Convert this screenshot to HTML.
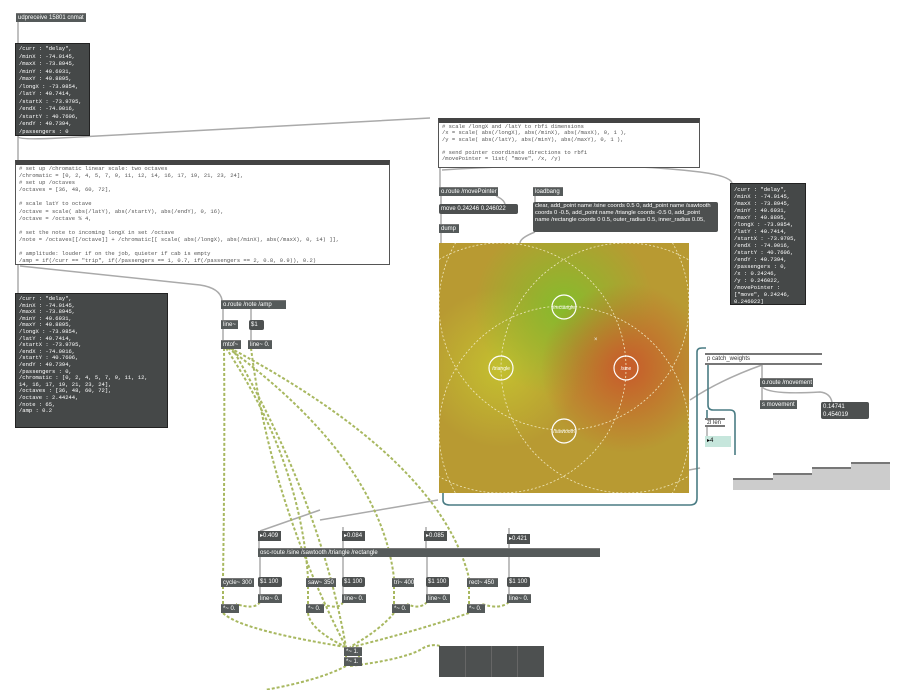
<!DOCTYPE html>
<html><head><meta charset="utf-8"><style>
body{margin:0;width:907px;height:690px;background:#fff;position:relative;overflow:hidden;font-family:"Liberation Sans",sans-serif}
.o{position:absolute;background:#555a5a;color:#fff;font-size:6px;line-height:8px;padding:0 2px;box-sizing:border-box;white-space:nowrap;border-top:1px solid #777}
.m{position:absolute;background:#4d5050;color:#fff;font-size:6px;line-height:8px;padding:1px 2px;box-sizing:border-box;border-radius:2px;white-space:nowrap}
.d{position:absolute;background:#454848;color:#fff;font-family:"Liberation Mono",monospace;font-size:5.5px;line-height:7.6px;padding:1px 3px;box-sizing:border-box;border:1px solid #222;white-space:pre;overflow:hidden}
.c{position:absolute;background:#fff;border:1px solid #555;border-top:5px solid #444;font-family:"Liberation Mono",monospace;font-size:5.5px;line-height:7.2px;color:#555;padding:1px 3px;box-sizing:border-box;white-space:pre;overflow:hidden}
.n{position:absolute;background:#4d5050;color:#fff;font-size:6px;line-height:10px;padding:0 2px;box-sizing:border-box;white-space:nowrap}
</style></head><body>
<svg width="907" height="690" style="position:absolute;left:0;top:0">
<g fill="none" stroke="#aaa" stroke-width="1.5">
<path d="M18 22V43"/><path d="M18 136V160"/>
<path d="M18 137 Q20 140 60 138 L430 118"/>
<path d="M18 265V293"/><path d="M20 266 L200 285 Q220 288 222 300"/>
<path d="M440 168V187"/><path d="M442 170 Q600 160 700 172 Q730 176 732 183"/>
<path d="M441 196V205"/><path d="M496 196 Q505 200 505 205"/>
<path d="M441 214V224"/><path d="M535 196V202"/>
<path d="M441 232V243"/><path d="M535 232 Q520 238 520 243"/>
<path d="M223 309V320"/><path d="M251 309V320"/><path d="M251 330V340"/><path d="M223 328V340"/>
<path d="M259 541V548"/><path d="M343 541V548"/><path d="M426 541V548"/><path d="M509 544V548"/>
<path d="M260 531 L320 510"/><path d="M343 531V527"/><path d="M426 531V527"/><path d="M509 534V528"/>
<path d="M260 557V578"/><path d="M343 557V578"/><path d="M427 557V578"/><path d="M509 557V578"/>
<path d="M260 586V594"/><path d="M343 586V594"/><path d="M427 586V594"/><path d="M509 586V594"/>
<path d="M762 365V378"/><path d="M762 387V400"/><path d="M762 387 Q770 395 820 392 Q830 393 832 402"/>
<path d="M762 365 Q720 380 690 400"/><path d="M689 403 L660 420"/>
<path d="M438 500 L320 520"/><path d="M689 470 L700 468"/>
<path d="M707 426V436"/>
</g>
<g fill="none" stroke="#4a7c84" stroke-width="1.6">
<path d="M443 493 V500 Q443 505 450 505 H690 Q697 505 697 498 V352 Q697 348 702 348 H706"/>
<path d="M708 365 V405 Q708 410 713 410 H730 Q735 410 735 415 V455"/>
<path d="M707 410 V418"/>
</g>
<g fill="none" stroke="#a8b860" stroke-width="2" stroke-dasharray="3 2">
<path d="M224 348 Q225 450 223 578"/><path d="M226 348 Q300 460 308 578"/><path d="M228 348 Q380 460 394 578"/><path d="M230 348 Q440 460 469 578"/>
<path d="M251 348 Q270 500 346 647"/><path d="M232 348 Q320 500 346 647"/>
<path d="M223 586V604"/><path d="M308 586V604"/><path d="M394 586V604"/><path d="M469 586V604"/>
<path d="M260 602 Q255 610 236 604"/><path d="M343 602 Q340 610 321 604"/><path d="M427 602 Q420 610 407 604"/><path d="M509 602 Q500 610 482 604"/>
<path d="M223 613 Q240 630 346 647"/><path d="M308 613 Q310 630 346 647"/><path d="M394 613 Q380 630 350 647"/><path d="M469 613 Q420 630 352 647"/>
<path d="M346 656V657"/><path d="M359 656V657"/>
<path d="M346 666 Q320 680 265 690"/><path d="M350 666 Q400 660 420 650 Q430 643 440 646"/>
</g>
</svg>

<div class="o" style="left:16px;top:13px;width:70px;height:9px">udpreceive 15801 cnmat</div>
<div class="d" style="left:15px;top:43px;width:75px;height:93px;line-height:7.5px;padding-top:1px">/curr : "delay",
/minX : -74.0145,
/maxX : -73.8945,
/minY : 40.6931,
/maxY : 40.8895,
/longX : -73.9854,
/latY : 40.7414,
/startX : -73.9705,
/endX : -74.0016,
/startY : 40.7606,
/endY : 40.7394,
/passengers : 0</div>

<div class="c" style="left:15px;top:160px;width:375px;height:105px;padding-top:0;line-height:7.1px"># set up /chromatic linear scale: two octaves
/chromatic = [0, 2, 4, 5, 7, 9, 11, 12, 14, 16, 17, 19, 21, 23, 24],
# set up /octaves
/octaves = [36, 48, 60, 72],

# scale latY to octave
/octave = scale( abs(/latY), abs(/startY), abs(/endY), 0, 16),
/octave = /octave % 4,

# set the note to incoming longX in set /octave
/note = /octaves[[/octave]] + /chromatic[[ scale( abs(/longX), abs(/minX), abs(/maxX), 0, 14) ]],

# amplitude: louder if on the job, quieter if cab is empty
/amp = if(/curr == "trip", if(/passengers == 1, 0.7, if(/passengers == 2, 0.8, 0.9)), 0.2)</div>

<div class="c" style="left:438px;top:118px;width:262px;height:50px;line-height:6.4px"># scale /longX and /latY to rbfi dimensions
/x = scale( abs(/longX), abs(/minX), abs(/maxX), 0, 1 ),
/y = scale( abs(/latY), abs(/minY), abs(/maxY), 0, 1 ),

# send pointer coordinate directions to rbfi
/movePointer = list( "move", /x, /y)</div>

<div class="o" style="left:439px;top:187px;width:59px;height:9px">o.route /movePointer</div>
<div class="m" style="left:439px;top:204px;width:79px;height:10px">move 0.24246 0.246022</div>
<div class="o" style="left:439px;top:224px;width:20px;height:9px">dump</div>
<div class="o" style="left:533px;top:187px;width:30px;height:9px">loadbang</div>
<div class="m" style="left:533px;top:202px;width:185px;height:30px;font-size:5.8px;line-height:7px;white-space:normal">clear, add_point name /sine coords 0.5 0, add_point name /sawtooth coords 0 -0.5, add_point name /triangle coords -0.5 0, add_point name /rectangle coords 0 0.5, outer_radius 0.5, inner_radius 0.05,</div>

<div class="d" style="left:730px;top:183px;width:76px;height:122px;line-height:7px;padding-top:2px">/curr : "delay",
/minX : -74.0145,
/maxX : -73.8945,
/minY : 40.6931,
/maxY : 40.8895,
/longX : -73.9854,
/latY : 40.7414,
/startX : -73.9705,
/endX : -74.0016,
/startY : 40.7606,
/endY : 40.7394,
/passengers : 0,
/x : 0.24246,
/y : 0.246022,
/movePointer :
["move", 0.24246,
0.246022]</div>

<div class="d" style="left:15px;top:293px;width:153px;height:135px;line-height:6.6px;padding-top:2px">/curr : "delay",
/minX : -74.0145,
/maxX : -73.8945,
/minY : 40.6931,
/maxY : 40.8895,
/longX : -73.9854,
/latY : 40.7414,
/startX : -73.9705,
/endX : -74.0016,
/startY : 40.7606,
/endY : 40.7394,
/passengers : 0,
/chromatic : [0, 2, 4, 5, 7, 9, 11, 12,
14, 16, 17, 19, 21, 23, 24],
/octaves : [36, 48, 60, 72],
/octave : 2.44244,
/note : 65,
/amp : 0.2</div>

<div class="o" style="left:221px;top:300px;width:65px;height:9px">o.route /note /amp</div>
<div class="o" style="left:221px;top:320px;width:17px;height:9px">line~</div>
<div class="m" style="left:249px;top:320px;width:15px;height:10px">$1</div>
<div class="o" style="left:221px;top:340px;width:20px;height:9px">mtof~</div>
<div class="o" style="left:248px;top:340px;width:24px;height:9px">line~ 0.</div>

<svg width="250" height="250" style="position:absolute;left:439px;top:243px">
<defs>
<radialGradient id="g1" cx="125" cy="64" r="90" gradientUnits="userSpaceOnUse"><stop offset="0" stop-color="#86bc2c"/><stop offset="1" stop-color="#86bc2c" stop-opacity="0"/></radialGradient>
<radialGradient id="g2" cx="187" cy="125" r="85" gradientUnits="userSpaceOnUse"><stop offset="0" stop-color="#c85a2a"/><stop offset="1" stop-color="#c85a2a" stop-opacity="0"/></radialGradient>
<radialGradient id="g3" cx="62" cy="125" r="80" gradientUnits="userSpaceOnUse"><stop offset="0" stop-color="#c4c030"/><stop offset="1" stop-color="#c4c030" stop-opacity="0"/></radialGradient>
</defs>
<rect width="250" height="250" fill="#b89a32"/>
<rect width="250" height="250" fill="url(#g3)"/>
<rect width="250" height="250" fill="url(#g1)"/>
<rect width="250" height="250" fill="url(#g2)"/>
<g fill="none" stroke="#f0e8c0" stroke-width="0.8" stroke-dasharray="2 2">
<circle cx="125" cy="62" r="125"/><circle cx="62" cy="125" r="125"/><circle cx="187" cy="125" r="125"/><circle cx="125" cy="188" r="125"/>
</g>
<g fill="none" stroke="#fff" stroke-width="1.2">
<circle cx="125" cy="64" r="12"/><circle cx="62" cy="125" r="12"/><circle cx="187" cy="125" r="12"/><circle cx="125" cy="188" r="12"/>
</g>
<g fill="#fff" font-size="5" text-anchor="middle" font-family="Liberation Sans">
<text x="125" y="66">/rectangle</text><text x="62" y="127">/triangle</text><text x="187" y="127">/sine</text><text x="125" y="190">/sawtooth</text>
</g>
<text x="155" y="98" fill="#eee" font-size="6">×</text>
</svg>

<div class="o" style="left:705px;top:353px;width:117px;height:12px;background:#fff;color:#333;border-top:2px solid #777;border-bottom:2px solid #777;line-height:8px">p catch_weights</div>
<div class="o" style="left:760px;top:378px;width:53px;height:9px">o.route /movement</div>
<div class="o" style="left:760px;top:400px;width:37px;height:9px">s movement</div>
<div class="m" style="left:821px;top:402px;width:48px;height:17px">0.14741<br>0.454019</div>
<div class="o" style="left:705px;top:418px;width:20px;height:9px;background:#fff;color:#333;border-top:2px solid #777;border-bottom:2px solid #777;line-height:6px">zl len</div>
<div style="position:absolute;left:705px;top:436px;width:24px;height:11px;background:#c6e6dc;font-size:6px;line-height:11px;padding-left:2px">▸4</div>
<div style="position:absolute;left:733px;top:478px;width:40px;height:10px;background:#ccc;border-top:2px solid #777"></div>
<div style="position:absolute;left:773px;top:473px;width:39px;height:15px;background:#ccc;border-top:2px solid #777"></div>
<div style="position:absolute;left:812px;top:467px;width:39px;height:21px;background:#ccc;border-top:2px solid #777"></div>
<div style="position:absolute;left:851px;top:462px;width:39px;height:26px;background:#ccc;border-top:2px solid #777"></div>

<div class="n" style="left:258px;top:531px;width:23px;height:10px">▸0.409</div>
<div class="n" style="left:342px;top:531px;width:23px;height:10px">▸0.084</div>
<div class="n" style="left:424px;top:531px;width:23px;height:10px">▸0.085</div>
<div class="n" style="left:507px;top:534px;width:23px;height:10px">▸0.421</div>
<div class="o" style="left:258px;top:548px;width:342px;height:9px">osc-route /sine /sawtooth /triangle /rectangle</div>

<div class="o" style="left:221px;top:578px;width:33px;height:9px">cycle~ 300</div>
<div class="m" style="left:258px;top:577px;width:24px;height:10px">$1 100</div>
<div class="o" style="left:306px;top:578px;width:30px;height:9px">saw~ 350</div>
<div class="m" style="left:342px;top:577px;width:23px;height:10px">$1 100</div>
<div class="o" style="left:392px;top:578px;width:22px;height:9px">tri~ 400</div>
<div class="m" style="left:426px;top:577px;width:23px;height:10px">$1 100</div>
<div class="o" style="left:467px;top:578px;width:31px;height:9px">rect~ 450</div>
<div class="m" style="left:507px;top:577px;width:23px;height:10px">$1 100</div>

<div class="o" style="left:258px;top:594px;width:24px;height:9px">line~ 0.</div>
<div class="o" style="left:342px;top:594px;width:24px;height:9px">line~ 0.</div>
<div class="o" style="left:426px;top:594px;width:24px;height:9px">line~ 0.</div>
<div class="o" style="left:507px;top:594px;width:24px;height:9px">line~ 0.</div>
<div class="o" style="left:221px;top:604px;width:18px;height:9px">*~ 0.</div>
<div class="o" style="left:306px;top:604px;width:18px;height:9px">*~ 0.</div>
<div class="o" style="left:392px;top:604px;width:18px;height:9px">*~ 0.</div>
<div class="o" style="left:467px;top:604px;width:18px;height:9px">*~ 0.</div>
<div class="o" style="left:344px;top:647px;width:18px;height:9px">*~ 1.</div>
<div class="o" style="left:344px;top:657px;width:18px;height:9px">*~ 1.</div>
<div style="position:absolute;left:439px;top:646px;width:105px;height:31px;background:#4d5050"></div>
<div style="position:absolute;left:465px;top:646px;width:1px;height:31px;background:#666"></div>
<div style="position:absolute;left:491px;top:646px;width:1px;height:31px;background:#666"></div>
<div style="position:absolute;left:517px;top:646px;width:1px;height:31px;background:#666"></div>
</body></html>
